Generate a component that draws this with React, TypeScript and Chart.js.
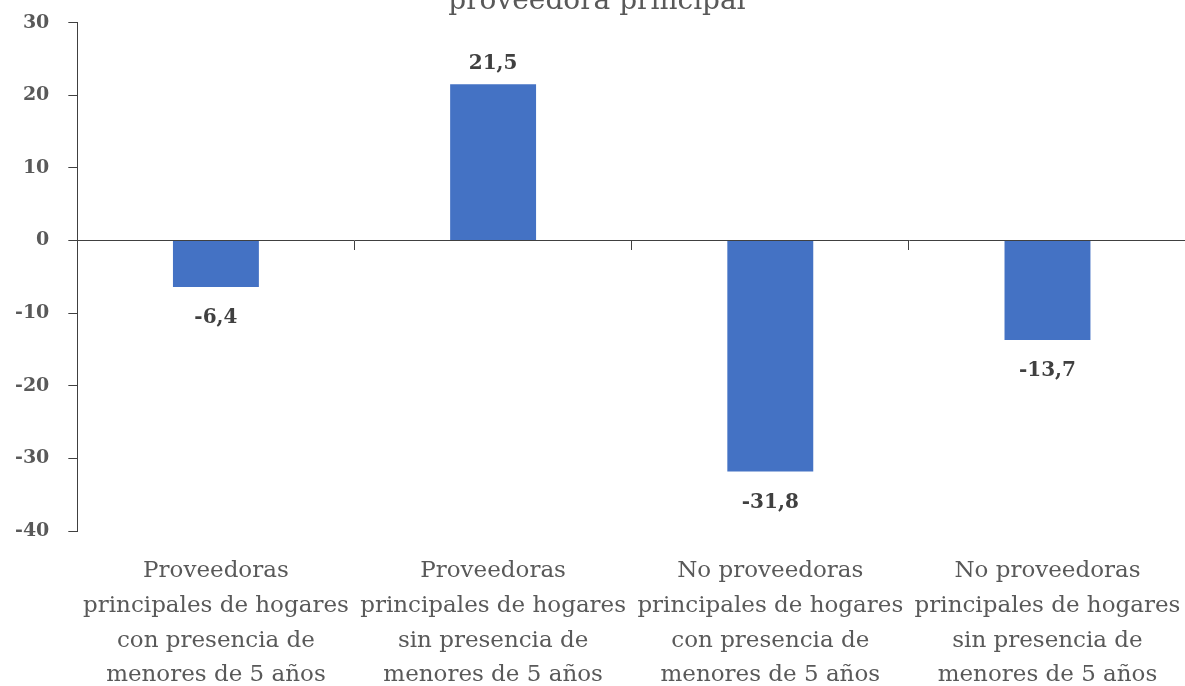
import React, { useEffect, useRef } from "react";
import { Chart, registerables } from "chart.js";

Chart.register(...registerables);

const categories: string[][] = [
  ["Proveedoras", "principales de hogares", "con presencia de", "menores de 5 años"],
  ["Proveedoras", "principales de hogares", "sin presencia de", "menores de 5 años"],
  ["No proveedoras", "principales de hogares", "con presencia de", "menores de 5 años"],
  ["No proveedoras", "principales de hogares", "sin presencia de", "menores de 5 años"],
];
const values: number[] = [-6.4, 21.5, -31.8, -13.7];
const titleText = "proveedora principal";

const FONT = "'DejaVu Serif', serif";
const fmt = (v: number) => v.toFixed(1).replace(".", ",");

// Value labels above positive bars and below negative ones
const valueLabels = {
  id: "valueLabels",
  afterDatasetsDraw(chart: any) {
    const ctx = chart.ctx;
    const meta = chart.getDatasetMeta(0);
    ctx.save();
    ctx.font = `bold 20px ${FONT}`;
    ctx.fillStyle = "#404040";
    ctx.textAlign = "center";
    meta.data.forEach((bar: any, i: number) => {
      const v = values[i];
      if (v >= 0) {
        ctx.textBaseline = "bottom";
        ctx.fillText(fmt(v), bar.x, bar.y - 11);
      } else {
        ctx.textBaseline = "top";
        ctx.fillText(fmt(v), bar.x, bar.y + 21);
      }
    });
    ctx.restore();
  },
};

export default function App() {
  const ref = useRef<HTMLCanvasElement>(null);
  useEffect(() => {
    if (!ref.current) return;
    const chart = new Chart(ref.current, {
      type: "bar",
      data: {
        labels: categories,
        datasets: [
          {
            data: values,
            backgroundColor: "#4472C4",
            barPercentage: 0.31,
            categoryPercentage: 1,
          },
        ],
      },
      options: {
        animation: false,
        responsive: true,
        maintainAspectRatio: false,
        layout: { padding: { left: -4, right: 5, top: 0, bottom: 0 } },
        plugins: {
          legend: { display: false },
          tooltip: { enabled: false },
          title: {
            display: true,
            text: titleText,
            color: "#595959",
            font: { family: FONT, size: 28, weight: "normal" },
            padding: { top: 8, bottom: 4 },
          },
        },
        scales: {
          x: {
            type: "category",
            offset: true,
            grid: { display: false, drawTicks: false, offset: true },
            border: { display: false },
            ticks: {
              autoSkip: false,
              maxRotation: 0,
              minRotation: 0,
              padding: 22,
              color: "#595959",
              font: { family: FONT, size: 23, lineHeight: 1.52 },
            },
          },
          x2: {
            type: "category",
            labels: categories.map((c) => c.join(" ")),
            position: { y: 0 } as any,
            offset: true,
            grid: {
              display: true,
              offset: true,
              drawOnChartArea: false,
              drawTicks: true,
              tickLength: 9,
              color: "#404040",
            },
            border: { display: true, color: "#404040", width: 1 },
            ticks: { display: false },
          },
          y: {
            min: -40,
            max: 30,
            ticks: {
              stepSize: 10,
              padding: 19,
              color: "#595959",
              font: { family: FONT, size: 19, weight: "bold" },
            },
            grid: {
              drawOnChartArea: false,
              drawTicks: true,
              tickLength: 9,
              color: "#404040",
            },
            border: { display: true, color: "#404040", width: 1 },
          },
        },
      },
      plugins: [valueLabels],
    });
    return () => chart.destroy();
  }, []);
  return (
    <div style={{ position: "fixed", left: 0, top: 0, right: 0, bottom: 0, overflow: "hidden" }}>
      <div style={{ position: "absolute", left: 0, top: -23, width: 1203, height: 738 }}>
        <canvas ref={ref} />
      </div>
    </div>
  );
}
